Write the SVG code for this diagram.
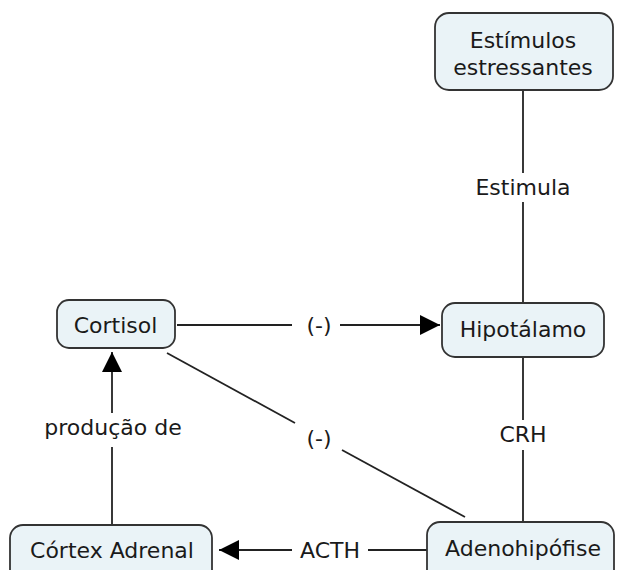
<svg xmlns="http://www.w3.org/2000/svg" width="619" height="570" viewBox="0 0 619 570">
<style>
.box{fill:#eaf3f7;stroke:#333;stroke-width:1.8}
.t{font-family:"DejaVu Sans",Verdana,sans-serif;font-size:22px;fill:#1a1a1a;text-anchor:middle}
.c{stroke:#222;stroke-width:1.8;fill:none}
</style>
<defs>
<marker id="ah" viewBox="0 0 20 20" refX="20" refY="10" markerWidth="20" markerHeight="20" markerUnits="userSpaceOnUse" orient="auto">
<path d="M0,0 L20,10 L0,20 Z" fill="#000"/>
</marker>
</defs>
<rect width="619" height="570" fill="#fff"/>
<g id="connectors">
<line class="c" x1="523" y1="90" x2="523" y2="173"/>
<line class="c" x1="523" y1="202" x2="523" y2="303"/>
<text class="t" x="523" y="195">Estimula</text>
<line class="c" x1="177" y1="325" x2="292" y2="325"/>
<line class="c" x1="340" y1="325" x2="440" y2="325" marker-end="url(#ah)"/>
<text class="t" x="319" y="333">(-)</text>
<line class="c" x1="523" y1="357" x2="523" y2="420"/>
<line class="c" x1="523" y1="450" x2="523" y2="522"/>
<text class="t" x="523" y="442">CRH</text>
<line class="c" x1="167" y1="353" x2="295" y2="423"/>
<line class="c" x1="342" y1="450" x2="465" y2="517"/>
<text class="t" x="319" y="446">(-)</text>
<line class="c" x1="427" y1="550" x2="368" y2="550"/>
<line class="c" x1="292" y1="550" x2="219" y2="550" marker-end="url(#ah)"/>
<text class="t" x="330" y="558">ACTH</text>
<line class="c" x1="112" y1="525" x2="112" y2="447"/>
<line class="c" x1="112" y1="413" x2="112" y2="352" marker-end="url(#ah)"/>
<text class="t" x="113" y="435">produção de</text>
</g>
<g id="estimulos">
<rect class="box" x="435" y="13" width="178" height="77" rx="14"/>
<text class="t" x="523" y="48">Estímulos</text>
<text class="t" x="523" y="75">estressantes</text>
</g>
<g id="hipotalamo">
<rect class="box" x="442" y="303" width="162" height="54" rx="13"/>
<text class="t" x="523" y="337">Hipotálamo</text>
</g>
<g id="cortisol">
<rect class="box" x="57" y="300" width="118" height="48" rx="12"/>
<text class="t" x="115.5" y="333">Cortisol</text>
</g>
<g id="cortex">
<rect class="box" x="10" y="525" width="202" height="60" rx="13"/>
<text class="t" x="112" y="558">Córtex Adrenal</text>
</g>
<g id="adeno">
<rect class="box" x="427" y="522" width="187" height="63" rx="13"/>
<text class="t" x="523" y="556">Adenohipófise</text>
</g>
</svg>
